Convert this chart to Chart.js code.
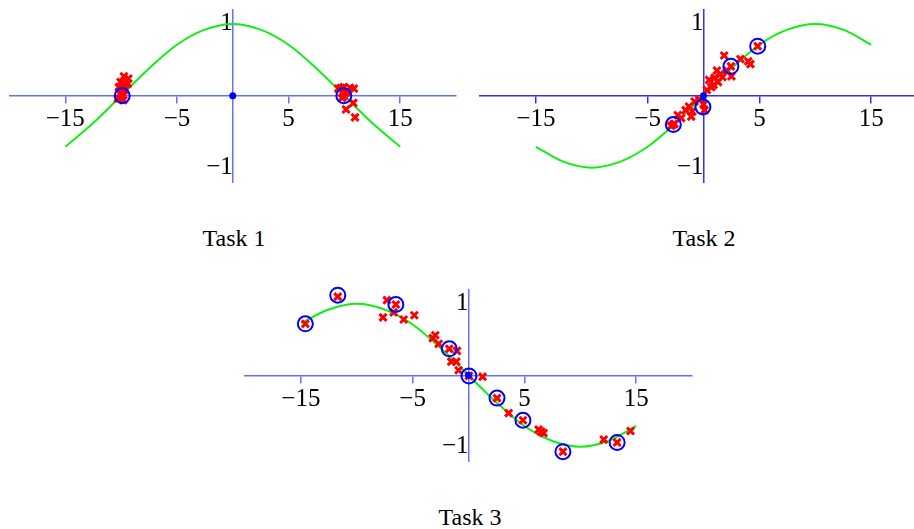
<!DOCTYPE html>
<html>
<head>
<meta charset="utf-8">
<script src="https://cdn.jsdelivr.net/npm/chart.js@4.4.0/dist/chart.umd.min.js"></script>
<style>
  html, body { margin: 0; padding: 0; background: #fff; overflow: hidden; }
  #figure { position: relative; width: 914px; height: 529px; overflow: hidden; }
  canvas { position: absolute; }
  .legende {
    position: absolute;
    font-family: 'Liberation Serif', serif;
    font-size: 24px;
    color: #000;
    transform: translate(-50%, -50%);
    white-space: nowrap;
  }
</style>
</head>
<body>
<div id="figure">
  <canvas id="tache1" width="470" height="200" style="left:0px;top:0px"></canvas>
  <canvas id="tache2" width="470" height="200" style="left:470px;top:0px"></canvas>
  <canvas id="tache3" width="470" height="200" style="left:235px;top:280px"></canvas>
  <div class="legende" style="left:234px;top:238px">Task 1</div>
  <div class="legende" style="left:704px;top:238px">Task 2</div>
  <div class="legende" style="left:470px;top:517px">Task 3</div>
</div>
<script>
const GRADUATIONS_X = [-15, -5, 5, 15];
const GRADUATIONS_Y = [-1, 1];

// courbes vertes
const COURBE_X = [-15, -12.5, -10, -7.5, -5, -2.5, 0, 2.5, 5, 7.5, 10, 12.5, 15];
const COURBE_TACHE1 = [-0.71, -0.38, 0, 0.38, 0.71, 0.92, 1, 0.92, 0.71, 0.38, 0, -0.38, -0.71];
const COURBE_TACHE2 = [-0.71, -0.92, -1, -0.92, -0.71, -0.38, 0, 0.38, 0.71, 0.92, 1, 0.92, 0.71];
const COURBE_TACHE3 = [0.73, 0.92, 1, 0.92, 0.71, 0.38, 0, -0.38, -0.71, -0.92, -1, -0.92, -0.71];

// croix rouges
const CROIX_TACHE1 = [
  [-10.3, -0.04], [-10.2, 0.12], [-10.05, 0.19], [-9.9, 0.05], [-9.8, -0.06],
  [-9.62, 0.15], [-9.75, 0.27], [-9.35, 0.24], [-9.9, 0.0], [-10.1, 0.03],
  [-9.7, 0.08], [-9.4, 0.17],
  [9.45, 0.1], [9.7, 0.11], [9.95, 0.12], [10.5, 0.11], [10.85, 0.1],
  [9.95, 0.0], [10.1, 0.04], [9.8, -0.03], [10.3, 0.05],
  [10.8, -0.1], [10.15, -0.19], [10.95, -0.3],
];
const CROIX_TACHE2 = [
  [-2.9, -0.42], [-2.6, -0.39], [-2.7, -0.4], [-2.3, -0.27], [-2.0, -0.31],
  [-1.6, -0.2], [-1.3, -0.15], [-1.1, -0.29], [-1.0, -0.22], [-0.8, -0.08],
  [-0.4, -0.05], [0.0, -0.12], [0.1, -0.2], [0.3, 0.08], [0.5, 0.22],
  [0.7, 0.12], [0.9, 0.15], [1.0, 0.25], [1.2, 0.35], [1.3, 0.19],
  [1.5, 0.3], [1.7, 0.26], [1.85, 0.56], [2.1, 0.35], [2.45, 0.41],
  [2.5, 0.27], [3.3, 0.51], [4.0, 0.48], [4.2, 0.44], [4.85, 0.69],
];
const CROIX_TACHE3 = [
  [-14.6, 0.72], [-11.7, 1.1], [-7.3, 1.05], [-6.5, 0.99], [-6.7, 0.88],
  [-7.65, 0.81], [-5.8, 0.78], [-4.85, 0.84], [-2.97, 0.56], [-3.2, 0.52],
  [-2.67, 0.44], [-1.72, 0.37], [-1.03, 0.34], [-1.54, 0.19], [-1.09, 0.19],
  [-0.88, 0.07], [0.04, -0.01], [1.26, -0.02], [2.55, -0.32], [3.59, -0.53],
  [4.87, -0.63], [6.27, -0.76], [6.5, -0.79], [6.72, -0.81], [8.45, -1.07],
  [12.1, -0.9], [13.3, -0.94], [14.5, -0.78],
];

// cercles bleus
const CERCLES_TACHE1 = [[-9.9, 0], [9.95, 0]];
const CERCLES_TACHE2 = [[-2.7, -0.4], [-0.05, -0.155], [2.45, 0.41], [4.85, 0.69]];
const CERCLES_TACHE3 = [
  [-14.6, 0.72], [-11.7, 1.12], [-6.5, 0.99], [-1.72, 0.37], [0.04, -0.01],
  [2.55, -0.32], [4.87, -0.63], [8.45, -1.07], [13.3, -0.94],
];
const ORIGINE = [[0, 0]];

const POLICE = "'Liberation Serif', serif";
const COULEURS = {
  ROUGE: '#ff0000',
  BLEU: '#0000ff',
  VERT: '#11ee11',
  AXE_CLAIR: '#6272ff',
  AXE_FONCE: '#3030ff',
};

const enPoints = (paires) => paires.map(([x, y]) => ({ x, y }));
const formateNombre = (valeur) => (valeur < 0 ? `\u2212${Math.abs(valeur)}` : `${valeur}`);

const axeX = (couleur) => ({
  type: 'linear',
  min: -20,
  max: 20,
  position: { y: 0 },
  afterBuildTicks: (echelle) => { echelle.ticks = GRADUATIONS_X.map((value) => ({ value })); },
  afterFit: (echelle) => { echelle.paddingLeft = 0; echelle.paddingRight = 0; },
  border: { color: couleur, width: 1.5 },
  grid: { display: true, drawOnChartArea: false, drawTicks: true, tickLength: 7, color: couleur, lineWidth: 1.5 },
  ticks: { autoSkip: false, maxRotation: 0, padding: 2, color: '#000', font: { family: POLICE, size: 25 }, callback: formateNombre },
});

const axeY = (couleur) => ({
  type: 'linear',
  min: -1.2,
  max: 1.2,
  position: { x: 0 },
  afterBuildTicks: (echelle) => { echelle.ticks = GRADUATIONS_Y.map((value) => ({ value })); },
  afterFit: (echelle) => { echelle.paddingTop = 0; echelle.paddingBottom = 0; },
  border: { color: couleur, width: 1.5 },
  grid: { display: false },
  ticks: { autoSkip: false, padding: 3, color: '#000', font: { family: POLICE, size: 25 }, callback: formateNombre },
});

const dessineTache = (idCanevas, { courbe, croix, cercles, couleurAxe, marges }) => {
  /* eslint-disable no-new */
  new Chart(document.getElementById(idCanevas), {
    type: 'scatter',
    data: {
      datasets: [
        {
          data: enPoints(ORIGINE),
          pointStyle: 'circle',
          pointRadius: 3.5,
          backgroundColor: COULEURS.BLEU,
          borderWidth: 0,
          order: 0,
          clip: false,
        },
        {
          data: enPoints(cercles),
          pointStyle: 'circle',
          pointRadius: 7.5,
          borderWidth: 2,
          borderColor: COULEURS.BLEU,
          backgroundColor: 'transparent',
          order: 1,
          clip: false,
        },
        {
          data: enPoints(croix),
          pointStyle: 'crossRot',
          pointRadius: 5,
          borderWidth: 3,
          borderColor: COULEURS.ROUGE,
          order: 2,
          clip: false,
        },
        {
          data: COURBE_X.map((x, i) => ({ x, y: courbe[i] })),
          showLine: true,
          pointRadius: 0,
          borderColor: COULEURS.VERT,
          borderWidth: 2,
          cubicInterpolationMode: 'monotone',
          order: 3,
        },
      ],
    },
    options: {
      responsive: false,
      animation: false,
      events: [],
      layout: { padding: marges },
      plugins: { legend: { display: false }, tooltip: { enabled: false } },
      scales: { x: axeX(couleurAxe), y: axeY(couleurAxe) },
    },
  });
  /* eslint-enable no-new */
};

dessineTache('tache1', {
  courbe: COURBE_TACHE1, croix: CROIX_TACHE1, cercles: CERCLES_TACHE1,
  couleurAxe: COULEURS.AXE_CLAIR,
  marges: { left: 9, top: 6, right: 14, bottom: 18 },
});
dessineTache('tache2', {
  courbe: COURBE_TACHE2, croix: CROIX_TACHE2, cercles: CERCLES_TACHE2,
  couleurAxe: COULEURS.AXE_FONCE,
  marges: { left: 10, top: 6, right: 13, bottom: 18 },
});
dessineTache('tache3', {
  courbe: COURBE_TACHE3, croix: CROIX_TACHE3, cercles: CERCLES_TACHE3,
  couleurAxe: COULEURS.AXE_CLAIR,
  marges: { left: 10, top: 5, right: 13, bottom: 19 },
});
</script>
</body>
</html>
